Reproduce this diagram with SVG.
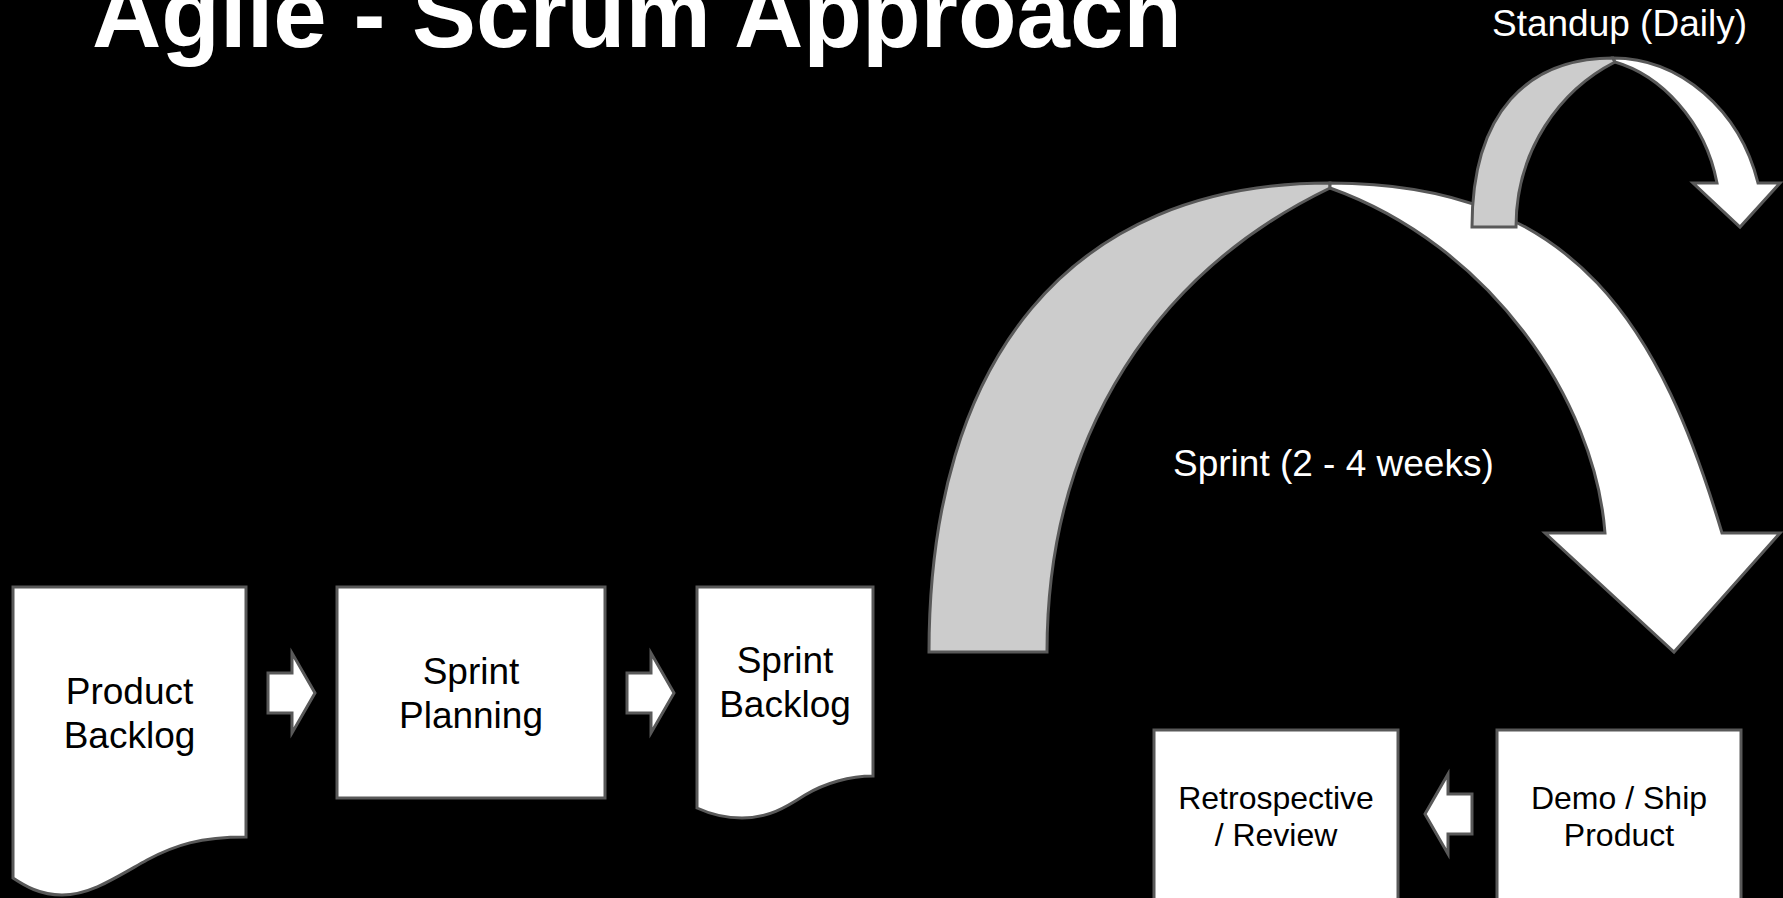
<svg xmlns="http://www.w3.org/2000/svg" width="1783" height="898" viewBox="0 0 1783 898">
  <style>
    .shape { stroke: #595959; stroke-width: 3; stroke-linejoin: miter; }
    .white { fill: #ffffff; }
    .gray { fill: #cccccc; }
    .lbl { font-family: "Liberation Sans", Arial, sans-serif; fill: #000000; text-anchor: middle; }
    .big { font-size: 37px; }
    .small { font-size: 32px; }
    .wlbl { font-family: "Liberation Sans", Arial, sans-serif; fill: #ffffff; font-size: 37px; }
  </style>
  <rect x="0" y="0" width="1783" height="898" fill="#000000"/>

  <g id="title">
    <text x="92" y="47" font-family="'Liberation Sans', Arial, sans-serif" font-weight="bold" font-size="96" fill="#ffffff">Agile - Scrum Approach</text>
  </g>

  <g id="sprint-cycle">
    <path class="shape gray" d="M929,652 C929,361 1069,183 1330,183 L1330,188 C1160,270 1047,430 1047,652 Z"/>
    <path class="shape white" d="M1330,183 C1580,183 1662,333 1722,533 L1780,533 L1674,652 L1545,533 L1605,533 C1595,400 1490,245 1330,188 Z"/>
    <text class="wlbl" x="1173" y="476">Sprint (2 - 4 weeks)</text>
  </g>

  <g id="standup-cycle">
    <path class="shape gray" d="M1472,227 C1472,112 1528,58 1613,58 L1615,62 C1560,90 1516,150 1516,227 Z"/>
    <path class="shape white" d="M1613,58 C1680,58 1740,110 1758,183 L1780,183 L1740,227 L1693,183 L1717,183 C1705,120 1660,75 1615,62 Z"/>
    <text class="wlbl" x="1747" y="36" text-anchor="end">Standup (Daily)</text>
  </g>

  <g id="product-backlog">
    <path class="shape white" d="M13,587 L246,587 L246,837 C200,837 175,845 147,860 C115,878 90,895 62,895 C40,895 25,886 13,878 Z"/>
    <text class="lbl big" x="129.5" y="704">Product</text>
    <text class="lbl big" x="129.5" y="748">Backlog</text>
  </g>

  <g id="sprint-planning">
    <rect class="shape white" x="337" y="587" width="268" height="211"/>
    <text class="lbl big" x="471" y="684">Sprint</text>
    <text class="lbl big" x="471" y="728">Planning</text>
  </g>

  <g id="sprint-backlog">
    <path class="shape white" d="M697,587 L873,587 L873,776 C850,776 825,783 805,795 C785,808 768,818 742,818 C725,818 710,814 697,808 Z"/>
    <text class="lbl big" x="785" y="673">Sprint</text>
    <text class="lbl big" x="785" y="717">Backlog</text>
  </g>

  <g id="retrospective">
    <rect class="shape white" x="1154" y="730" width="244" height="190"/>
    <text class="lbl small" x="1276" y="809">Retrospective</text>
    <text class="lbl small" x="1276" y="846">/ Review</text>
  </g>

  <g id="demo-ship">
    <rect class="shape white" x="1497" y="730" width="244" height="190"/>
    <text class="lbl small" x="1619" y="809">Demo / Ship</text>
    <text class="lbl small" x="1619" y="846">Product</text>
  </g>

  <g id="connectors">
    <path class="shape white" d="M268,673 L292,673 L292,653 L315,693 L292,733 L292,713 L268,713 Z"/>
    <path class="shape white" d="M627,673 L651,673 L651,653 L674,693 L651,733 L651,713 L627,713 Z"/>
    <path class="shape white" d="M1472,794 L1448,794 L1448,774 L1425,814 L1448,854 L1448,834 L1472,834 Z"/>
  </g>
</svg>
